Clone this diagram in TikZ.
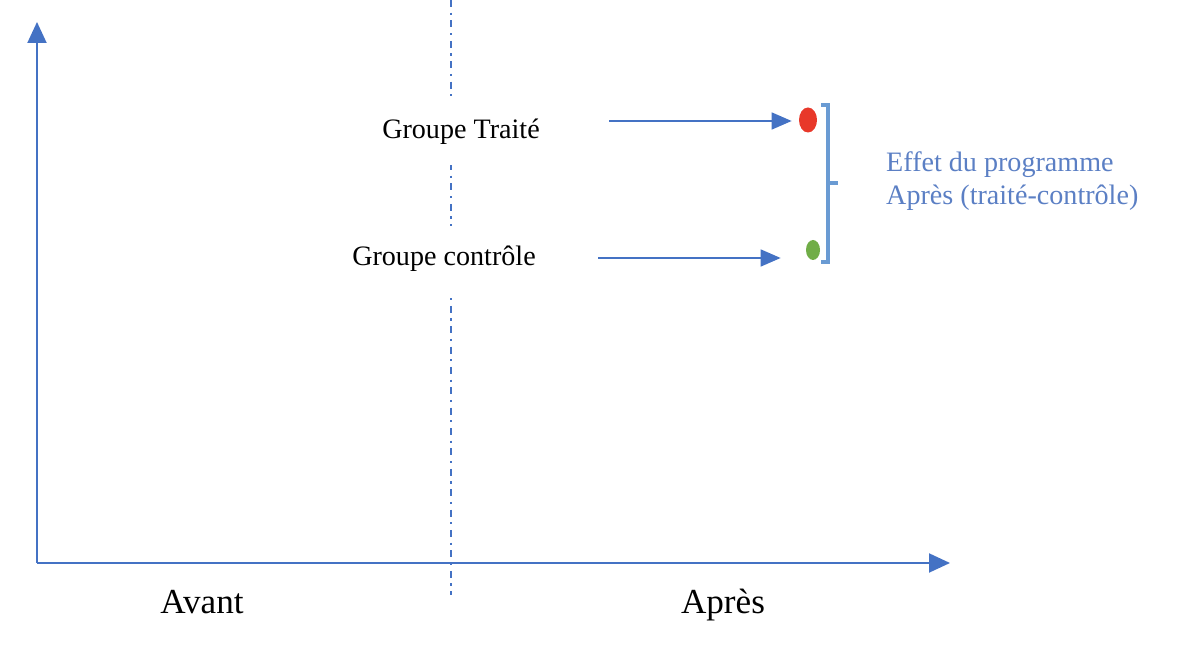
\documentclass[tikz,border=0pt]{standalone}
\usepackage{fontspec}
\setmainfont{Liberation Serif}
\usetikzlibrary{arrows.meta,shapes.geometric}
\definecolor{axisblue}{HTML}{4472C4}
\definecolor{bracketblue}{HTML}{6A9BD3}
\definecolor{effettext}{HTML}{5B7FC4}
\definecolor{dotred}{HTML}{E8382A}
\definecolor{dotgreen}{HTML}{70AD47}
\tikzset{
  axis/.style={draw=axisblue, line width=1.1pt,
               -{Triangle[length=0.42cm, width=0.38cm]}},
  pointer/.style={draw=axisblue, line width=0.9pt,
                  -{Triangle[length=0.4cm, width=0.34cm]}},
  divider/.style={draw=axisblue, line width=1.1pt,
                  dash pattern=on 4pt off 3.2pt on 1.2pt off 3.2pt},
  grouplabel/.style={font=\fontsize{16}{19}\selectfont, fill=white,
                     inner xsep=4pt, inner ysep=0.4cm},
  periodlabel/.style={font=\fontsize{20}{24}\selectfont, anchor=base},
  dot/.style={ellipse, inner sep=0pt},
  brace/.style={draw=bracketblue, line width=2.3pt},
}
\begin{document}
\begin{tikzpicture}
    \useasboundingbox (0,0) rectangle (23.96,13.08);
    % before / after divider
    \draw[divider] (9.02,13.08) -- (9.02,1.18);
    % axes
    \coordinate (origin) at (0.74,1.82);
    \coordinate (ytop) at (0.74,12.64);
    \coordinate (xend) at (19.0,1.82);
    \draw[axis] (origin) -- (ytop);
    \draw[axis] (origin) -- (xend);
    \node[periodlabel] (avant) at (4.04,0.8) {Avant};
    \node[periodlabel] (apres) at (14.46,0.8) {Après};
    % groups
    \node[grouplabel] (treated) at (9.22,10.44) {Groupe Traité};
    \node[grouplabel] (control) at (8.88,7.9) {Groupe contrôle};
    \node[dot, fill=dotred, minimum width=0.36cm, minimum height=0.5cm] (reddot) at (16.16,10.68) {};
    \node[dot, fill=dotgreen, minimum width=0.28cm, minimum height=0.4cm] (greendot) at (16.26,8.08) {};
    \coordinate (treatedfrom) at (12.18,10.66);
    \coordinate (controlfrom) at (11.96,7.92);
    \draw[pointer, shorten >=0.14cm] (treatedfrom) -- (reddot.west |- treatedfrom);
    \draw[pointer, shorten >=0.5cm] (controlfrom) -- (greendot.west |- controlfrom);
    % effect bracket
    \draw[brace] (16.42,10.98) -- (16.56,10.98) -- (16.56,7.84) -- (16.42,7.84);
    \draw[brace] (16.56,9.42) -- (16.76,9.42);
    \node[font=\fontsize{16}{19}\selectfont, text=effettext, anchor=west, align=left] (effet) at (17.6,9.46)
      {Effet du programme\\Après (traité-contrôle)};
  \end{tikzpicture}
\end{document}
